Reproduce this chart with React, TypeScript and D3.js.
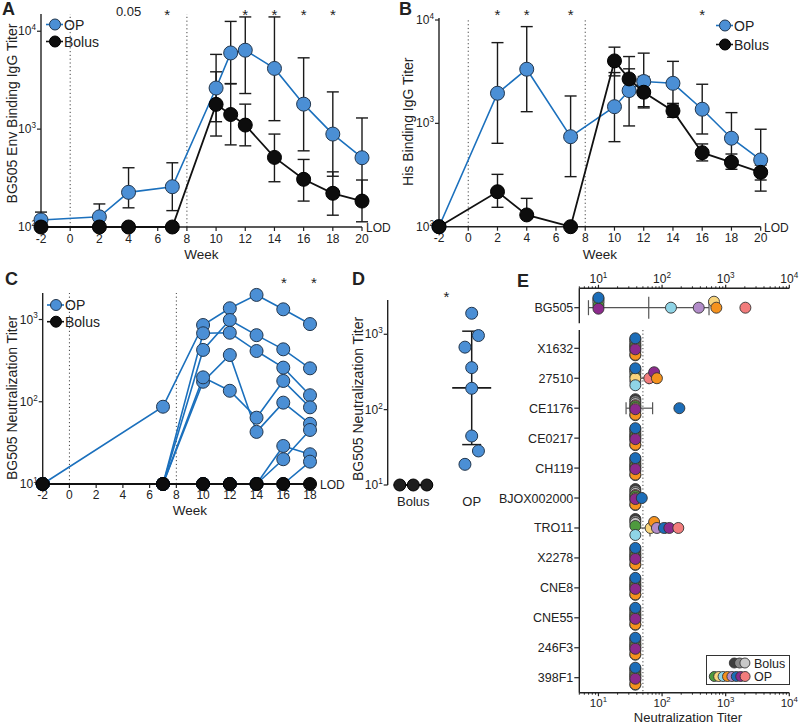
import React from "react";
import * as d3 from "d3";

const FONT = "'Liberation Sans', Arial, Helvetica, sans-serif";
const OP_FILL = "#4b8fd5";
const OP_LINE = "#1b70bd";
const OP_STROKE = "#22364d";
const BOL_FILL = "#0d0d0d";
const INK = "#222";

// ---------- Panel A: BG505 Env binding IgG titer ----------
const weeksAB = [-2, 2, 4, 7, 10, 11, 12, 14, 16, 18, 20];
const weekTicksAB = [-2, 0, 2, 4, 6, 8, 10, 12, 14, 16, 18, 20];
const envOP = [118, 127, 226, 258, 2630, 6000, 6400, 4170, 1800, 890, 510];
const envOPHi = [142, 172, 403, 453, 5800, 12600, 14000, 14000, 5350, 2400, 1300];
const envOPLo = [null, null, 157, 147, 1190, 2920, 2310, 1220, 600, 330, 200];
const envBol = [100, 100, 100, 100, 1790, 1410, 1100, 514, 307, 221, 184];
const envBolHi = [null, null, null, null, 3850, 2900, 1800, 890, 490, 366, 302];
const envBolLo = [null, null, null, null, 850, 690, 675, 290, 184, 132, 113];
const sigAWeeks = [4, 6.65, 12, 14, 16, 18];
const sigAText = ["0.05", "*", "*", "*", "*", "*"];

// ---------- Panel B: His binding IgG titer ----------
const hisOP = [100, 1955, 3340, 743, 1450, 2075, 2540, 2440, 1370, 718, 443];
const hisOPHi = [null, 6040, 8630, 1840, 3100, 4430, 4780, 3980, 2390, 1270, 877];
const hisOPLo = [null, 641, 1297, 305, 665, 944, 1450, 1560, 789, 411, 283];
const hisBol = [100, 218, 130, 100, 4020, 2690, 2000, 1320, 520, 420, 336];
const hisBolHi = [null, 321, 188, null, 5460, 3370, 2840, 1500, 632, 505, 395];
const hisBolLo = [null, 154, null, null, 2880, 2100, 1410, 1145, 433, 359, 221];
const sigBWeeks = [2, 4, 7, 16];
const sigBText = ["*", "*", "*", "*"];

// ---------- Panel C: BG505 neutralization per animal ----------
const weeksC = [-2, 7, 10, 12, 14, 16, 18];
const weekTicksC = [-2, 0, 2, 4, 6, 8, 10, 12, 14, 16, 18];
const opAnimal1 = [10, 87, 857, 1370, 1990, 1330, 880];
const opAnimal2 = [10, 10, 427, 986, 645, 434, 255];
const opAnimal3 = [10, 10, 680, 690, 414, 260, 120];
const opAnimal4 = [10, 10, 175, 370, 43, 97.5, 54];
const opAnimal5 = [10, 10, 198, 136, 64, 179, 85.5];
const opAnimal6 = [10, 10, 10, 10, 10, 20, 45.4];
const opAnimal7 = [10, 10, 10, 10, 10, 29, 23];
const opAnimal8 = [10, 10, 10, 10, 10, 10, 18.7];
const opAnimalsC = [opAnimal1, opAnimal2, opAnimal3, opAnimal4, opAnimal5, opAnimal6, opAnimal7, opAnimal8];
const bolusC = [10, 10, 10, 10, 10, 10, 10];
const sigCWeeks = [16.05, 18.3];

// ---------- Panel D: peak BG505 neutralization ----------
const groupsD = ["Bolus", "OP"];
const dBolus = [10, 10, 10];
const dOP = [1900, 962, 675, 361, 192, 44.7, 28.3, 18.8];

// ---------- Panel E: neutralization panel ----------
const strainNames = ["BG505", "X1632", "27510", "CE1176", "CE0217", "CH119", "BJOX002000", "TRO11", "X2278", "CNE8", "CNE55", "246F3", "398F1"];
// animal order: bolus dark, bolus gray, bolus light, OP green, yellow, light blue, orange, light purple, blue, purple, red
const animalNames = ["Bolus 1", "Bolus 2", "Bolus 3", "OP 1", "OP 2", "OP 3", "OP 4", "OP 5", "OP 6", "OP 7", "OP 8"];
const animalColors = ["#3f3f3f", "#8a8a8a", "#c8c8c8", "#4e9a3e", "#f8d47c", "#8fd4e6", "#f5921e", "#b28cc9", "#1c6db8", "#8c2a8c", "#f27c7c"];
const lodBG505 = 10;
const lodPanel = 38;
const tBG505 = [10, 10, 10, 10, 655, 138, 713, 377, 10, 10, 2040];
const tX1632 = [38, 38, 38, 38, 38, 38, 38, 38, 38, 38, 38];
const t27510 = [38, 38, 38, 38, 38, 38, 83, 38, 38, 75, 63];
const tCE1176 = [38, 38, 38, 38, 38, 38, 38, 38, 187, 38, 38];
const tCE0217 = [38, 38, 38, 38, 38, 38, 38, 38, 38, 38, 38];
const tCH119 = [38, 38, 38, 38, 38, 38, 38, 38, 38, 38, 38];
const tBJOX = [38, 38, 38, 38, 38, 38, 38, 38, 48, 38, 38];
const tTRO11 = [38, 38, 38, 38, 66, 38, 75, 83, 107, 130, 180];
const tX2278 = [38, 38, 38, 38, 38, 38, 38, 38, 38, 38, 38];
const tCNE8 = [38, 38, 38, 38, 38, 38, 38, 38, 38, 38, 38];
const tCNE55 = [38, 38, 38, 38, 38, 38, 38, 38, 38, 38, 38];
const t246F3 = [38, 38, 38, 38, 38, 38, 38, 38, 38, 38, 38];
const t398F1 = [38, 38, 38, 38, 38, 38, 38, 38, 38, 38, 38];
const neutTiters = [tBG505, tX1632, t27510, tCE1176, tCE0217, tCH119, tBJOX, tTRO11, tX2278, tCNE8, tCNE55, t246F3, t398F1];

// style: vertical slot of each animal in the stacked LOD column, and drawing order
const stackOffset = [-9, -7, -5, -2, 0, 7, 6.5, 3, -10, 1, -3];
const stackOrder = [0, 1, 2, 10, 7, 3, 4, 5, 6, 9, 8];

function Pow10({ x, y, exp, anchor = "end", size = 12 }: any) {
  return (
    <text x={x} y={y} textAnchor={anchor} fontSize={size} fill={INK}>
      10<tspan dy={-size * 0.42} fontSize={size * 0.68}>{exp}</tspan>
    </text>
  );
}

function LineLegend({ cx, y1, y2, textX, size = 14 }: any) {
  const items = [
    { label: "OP", fill: OP_FILL, line: OP_LINE, stroke: OP_STROKE, y: y1 },
    { label: "Bolus", fill: BOL_FILL, line: "#111", stroke: "#000", y: y2 },
  ];
  return (
    <g>
      {items.map((it) => (
        <g key={it.label}>
          <line x1={cx - 9} x2={cx + 8} y1={it.y} y2={it.y} stroke={it.line} strokeWidth={1.6} />
          <circle cx={cx} cy={it.y} r={5.5} fill={it.fill} stroke={it.stroke} strokeWidth={1} />
          <text x={textX} y={it.y + 5} fontSize={size} fill={INK}>{it.label}</text>
        </g>
      ))}
    </g>
  );
}

function ErrorBars({ xs, mean, hi, lo, xS, yS, cap = 6 }: any) {
  return (
    <g stroke="#1a1a1a" strokeWidth={1.4}>
      {xs.map((w: number, i: number) => {
        const h = hi[i] ?? mean[i];
        const l = lo[i] ?? mean[i];
        if (h === l) return null;
        const x = xS(w);
        return (
          <g key={i}>
            <line x1={x} x2={x} y1={yS(h)} y2={yS(l)} />
            {hi[i] != null && <line x1={x - cap} x2={x + cap} y1={yS(h)} y2={yS(h)} />}
            {lo[i] != null && <line x1={x - cap} x2={x + cap} y1={yS(l)} y2={yS(l)} />}
          </g>
        );
      })}
    </g>
  );
}

function TimeCourse(p: any) {
  const { xS, yS, weeks, op, opHi, opLo, bol, bolHi, bolLo, xTicks, yTicks, axisTop, lodX, lodY, weekY } = p;
  const [x0, x1] = xS.range();
  const yB = yS.range()[0];
  const line = d3.line<number>().x((_, i) => xS(weeks[i])).y((v) => yS(v));
  return (
    <g>
      {[0, 8].map((w) => (
        <line key={w} x1={xS(w)} x2={xS(w)} y1={yB} y2={axisTop} stroke="#444" strokeWidth={1} strokeDasharray="1.2,2.6" />
      ))}
      <line x1={x0} x2={x0} y1={yB} y2={axisTop} stroke={INK} strokeWidth={1.4} />
      <line x1={x0} x2={x1} y1={yB} y2={yB} stroke={INK} strokeWidth={1.4} />
      {xTicks.map((t: number) => (
        <g key={t}>
          <line x1={xS(t)} x2={xS(t)} y1={yB} y2={yB + 4} stroke={INK} strokeWidth={1.2} />
          <text x={xS(t)} y={yB + 15.5} textAnchor="middle" fontSize={12} fill={INK}>{t}</text>
        </g>
      ))}
      {yTicks.map((t: number) => (
        <g key={t}>
          <line x1={x0 - 4} x2={x0} y1={yS(t)} y2={yS(t)} stroke={INK} strokeWidth={1.2} />
          <Pow10 x={x0 - 5} y={yS(t) + 4} exp={Math.round(Math.log10(t))} size={12} />
        </g>
      ))}
      <text x={(x0 + x1) / 2} y={weekY} textAnchor="middle" fontSize={13.5} fill={INK}>Week</text>
      <text x={lodX} y={lodY} fontSize={12} fill={INK}>LOD</text>
      <ErrorBars xs={weeks} mean={op} hi={opHi} lo={opLo} xS={xS} yS={yS} />
      <ErrorBars xs={weeks} mean={bol} hi={bolHi} lo={bolLo} xS={xS} yS={yS} />
      <path d={line(op) || ""} fill="none" stroke={OP_LINE} strokeWidth={1.6} />
      {op.map((v: number, i: number) => (
        <circle key={i} cx={xS(weeks[i])} cy={yS(v)} r={7} fill={OP_FILL} stroke={OP_STROKE} strokeWidth={1} />
      ))}
      <path d={line(bol) || ""} fill="none" stroke="#111" strokeWidth={1.8} />
      {bol.map((v: number, i: number) => (
        <circle key={i} cx={xS(weeks[i])} cy={yS(v)} r={7} fill={BOL_FILL} stroke="#000" strokeWidth={1} />
      ))}
    </g>
  );
}

function PanelA() {
  const xS = d3.scaleLinear().domain([-2, 20]).range([41, 362]);
  const yS = d3.scaleLog().domain([100, 15000]).range([227, 14]);
  return (
    <g>
      <text x={2} y={15} fontSize={18} fontWeight="bold" fill={INK}>A</text>
      <TimeCourse xS={xS} yS={yS} weeks={weeksAB} op={envOP} opHi={envOPHi} opLo={envOPLo}
        bol={envBol} bolHi={envBolHi} bolLo={envBolLo} xTicks={weekTicksAB} yTicks={[100, 1000, 10000]}
        axisTop={14} lodX={366} lodY={232} weekY={259} />
      <text transform="translate(17,113.5) rotate(-90)" textAnchor="middle" fontSize={14} fill={INK}>BG505 Env Binding IgG Titer</text>
      <LineLegend cx={55} y1={24.5} y2={41.5} textX={64} size={14} />
      {sigAWeeks.map((w, i) => (
        <text key={i} x={xS(w)} y={sigAText[i] === "*" ? 20 : 16} textAnchor="middle" fontSize={sigAText[i] === "*" ? 15 : 13} fill={INK}>{sigAText[i]}</text>
      ))}
    </g>
  );
}

function PanelB() {
  const xS = d3.scaleLinear().domain([-2, 20]).range([439, 760.7]);
  const yS = d3.scaleLog().domain([100, 10000]).range([226.7, 20]);
  return (
    <g>
      <text x={399} y={15} fontSize={18} fontWeight="bold" fill={INK}>B</text>
      <TimeCourse xS={xS} yS={yS} weeks={weeksAB} op={hisOP} opHi={hisOPHi} opLo={hisOPLo}
        bol={hisBol} bolHi={hisBolHi} bolLo={hisBolLo} xTicks={weekTicksAB} yTicks={[100, 1000, 10000]}
        axisTop={18} lodX={764} lodY={232} weekY={258.5} />
      <text transform="translate(413,121.7) rotate(-90)" textAnchor="middle" fontSize={14} fill={INK}>His Binding IgG Titer</text>
      <LineLegend cx={725} y1={25.5} y2={44.5} textX={734} size={14} />
      {sigBWeeks.map((w, i) => (
        <text key={i} x={xS(w)} y={20} textAnchor="middle" fontSize={15} fill={INK}>{sigBText[i]}</text>
      ))}
    </g>
  );
}

function PanelC() {
  const xS = d3.scaleLinear().domain([-2, 18]).range([42.7, 310]);
  const yS = d3.scaleLog().domain([10, 2100]).range([484, 293]);
  const [x0, x1] = xS.range();
  const yB = 484;
  const line = d3.line<number>().x((_, i) => xS(weeksC[i])).y((v) => yS(v));
  return (
    <g>
      <text x={5} y={285} fontSize={18} fontWeight="bold" fill={INK}>C</text>
      {[0, 8].map((w) => (
        <line key={w} x1={xS(w)} x2={xS(w)} y1={yB} y2={293} stroke="#444" strokeWidth={1} strokeDasharray="1.2,2.6" />
      ))}
      <line x1={x0} x2={x0} y1={yB} y2={293} stroke={INK} strokeWidth={1.4} />
      <line x1={x0} x2={x1} y1={yB} y2={yB} stroke={INK} strokeWidth={1.4} />
      {weekTicksC.map((t) => (
        <g key={t}>
          <line x1={xS(t)} x2={xS(t)} y1={yB} y2={yB + 4} stroke={INK} strokeWidth={1.2} />
          <text x={xS(t)} y={yB + 14.5} textAnchor="middle" fontSize={12} fill={INK}>{t}</text>
        </g>
      ))}
      {[10, 100, 1000].map((t) => (
        <g key={t}>
          <line x1={x0 - 4} x2={x0} y1={yS(t)} y2={yS(t)} stroke={INK} strokeWidth={1.2} />
          <Pow10 x={x0 - 5} y={yS(t) + 4} exp={Math.round(Math.log10(t))} size={12} />
        </g>
      ))}
      <text x={190} y={514.5} textAnchor="middle" fontSize={13.5} fill={INK}>Week</text>
      <text x={320} y={489} fontSize={12} fill={INK}>LOD</text>
      <text transform="translate(17,398) rotate(-90)" textAnchor="middle" fontSize={14} fill={INK}>BG505 Neutralization Titer</text>
      {opAnimalsC.map((a, k) => (
        <path key={k} d={line(a) || ""} fill="none" stroke={OP_LINE} strokeWidth={1.6} />
      ))}
      {opAnimalsC.map((a, k) =>
        a.map((v, i) => (
          <circle key={k + "-" + i} cx={xS(weeksC[i])} cy={yS(v)} r={6.5} fill={OP_FILL} stroke={OP_STROKE} strokeWidth={1} />
        ))
      )}
      <path d={line(bolusC) || ""} fill="none" stroke="#111" strokeWidth={1.8} />
      {bolusC.map((v, i) => (
        <circle key={i} cx={xS(weeksC[i])} cy={yS(v)} r={6.5} fill={BOL_FILL} stroke="#000" strokeWidth={1} />
      ))}
      <LineLegend cx={56} y1={305} y2={321.7} textX={65} size={14} />
      {sigCWeeks.map((w, i) => (
        <text key={i} x={xS(w)} y={288} textAnchor="middle" fontSize={15} fill={INK}>*</text>
      ))}
    </g>
  );
}

function swarmOffsets(ys: number[], minGap: number, step: number) {
  const idx = ys.map((_, i) => i).sort((a, b) => ys[b] - ys[a]);
  const off = new Array(ys.length).fill(0);
  let cluster: number[] = [];
  const flush = () => {
    cluster.forEach((id, k) => (off[id] = (k - (cluster.length - 1) / 2) * step));
    cluster = [];
  };
  idx.forEach((id) => {
    if (cluster.length && Math.abs(ys[id] - ys[cluster[cluster.length - 1]]) >= minGap) flush();
    cluster.push(id);
  });
  flush();
  return off;
}

function PanelD() {
  const yS = d3.scaleLog().domain([10, 2850]).range([485, 300]);
  const xS = d3.scalePoint<string>().domain(groupsD).range([413.3, 471.7]);
  const axisX = 387.7;
  const groups = [
    { name: groupsD[0], vals: dBolus, fill: "#1e1e1e", stroke: "#000" },
    { name: groupsD[1], vals: dOP, fill: OP_FILL, stroke: OP_STROKE },
  ];
  return (
    <g>
      <text x={352} y={285} fontSize={18} fontWeight="bold" fill={INK}>D</text>
      <line x1={axisX} x2={axisX} y1={485} y2={300} stroke={INK} strokeWidth={1.4} />
      {[10, 100, 1000].map((t) => (
        <g key={t}>
          <line x1={axisX - 4} x2={axisX} y1={yS(t)} y2={yS(t)} stroke={INK} strokeWidth={1.2} />
          <Pow10 x={axisX - 5} y={yS(t) + 4} exp={Math.round(Math.log10(t))} size={12} />
        </g>
      ))}
      <text transform="translate(363,399) rotate(-90)" textAnchor="middle" fontSize={14} fill={INK}>BG505 Neutralization Titer</text>
      {groups.map((g) => {
        const cx = xS(g.name) as number;
        const logs = g.vals.map(Math.log10);
        const m = d3.mean(logs) as number;
        const sd = d3.deviation(logs) || 0;
        const ys = g.vals.map((v) => yS(v));
        const offs = swarmOffsets(ys, 14, 13.5);
        return (
          <g key={g.name}>
            <text x={cx} y={506} textAnchor="middle" fontSize={13} fill={INK}>{g.name}</text>
            <g stroke="#1a1a1a" strokeWidth={1.5}>
              {sd > 0 && <line x1={cx} x2={cx} y1={yS(Math.pow(10, m + sd))} y2={yS(Math.pow(10, m - sd))} />}
              {sd > 0 && <line x1={cx - 9.5} x2={cx + 9.5} y1={yS(Math.pow(10, m + sd))} y2={yS(Math.pow(10, m + sd))} />}
              {sd > 0 && <line x1={cx - 9.5} x2={cx + 9.5} y1={yS(Math.pow(10, m - sd))} y2={yS(Math.pow(10, m - sd))} />}
              <line x1={cx - 19.5} x2={cx + 19.5} y1={yS(Math.pow(10, m))} y2={yS(Math.pow(10, m))} strokeWidth={1.8} />
            </g>
            {g.vals.map((v, i) => (
              <circle key={i} cx={cx + offs[i]} cy={ys[i]} r={6} fill={g.fill} stroke={g.stroke} strokeWidth={1} />
            ))}
          </g>
        );
      })}
      <text x={446.5} y={302} textAnchor="middle" fontSize={15} fill={INK}>*</text>
    </g>
  );
}

function PanelE() {
  const xS = d3.scaleLog().domain([5, 10000]).range([579.3, 789.3]);
  const lowerNames = strainNames.slice(1);
  const yRow = d3.scalePoint<string>().domain(lowerNames).range([348.3, 677.7]);
  const rowY = (name: string) => (name === strainNames[0] ? 307.7 : (yRow(name) as number));
  const lodOf = (name: string) => (name === strainNames[0] ? lodBG505 : lodPanel);
  const axisL = 579.3;
  const topY = 288.3;
  const botY = 692.7;
  const majors = [10, 100, 1000, 10000];
  const minors: number[] = [];
  [1, 10, 100, 1000].forEach((d) => {
    for (let k = 2; k <= 9; k++) {
      const v = k * d;
      if (v >= 5 && v < 10000) minors.push(v);
    }
  });
  const cands = [0, -4, 4, -6, 6, -8, 8];
  const r = 5.5;
  return (
    <g>
      <text x={517} y={287} fontSize={18} fontWeight="bold" fill={INK}>E</text>
      {/* top axis */}
      <line x1={axisL} x2={xS(10000)} y1={topY} y2={topY} stroke={INK} strokeWidth={1.4} />
      {minors.map((v) => (
        <line key={"tm" + v} x1={xS(v)} x2={xS(v)} y1={topY} y2={topY - 2} stroke={INK} strokeWidth={1} />
      ))}
      {majors.map((v) => (
        <g key={"tM" + v}>
          <line x1={xS(v)} x2={xS(v)} y1={topY} y2={topY - 3.5} stroke={INK} strokeWidth={1.2} />
          <Pow10 x={xS(v)} y={topY - 5} exp={Math.round(Math.log10(v))} anchor="middle" size={12} />
        </g>
      ))}
      {/* bottom axis */}
      <line x1={axisL} x2={xS(10000)} y1={botY} y2={botY} stroke={INK} strokeWidth={1.4} />
      {minors.map((v) => (
        <line key={"bm" + v} x1={xS(v)} x2={xS(v)} y1={botY} y2={botY + 2} stroke={INK} strokeWidth={1} />
      ))}
      {majors.map((v) => (
        <g key={"bM" + v}>
          <line x1={xS(v)} x2={xS(v)} y1={botY} y2={botY + 3.5} stroke={INK} strokeWidth={1.2} />
          <Pow10 x={xS(v)} y={botY + 14} exp={Math.round(Math.log10(v))} anchor="middle" size={11.5} />
        </g>
      ))}
      <text x={688} y={721.5} textAnchor="middle" fontSize={13} fill={INK}>Neutralization Titer</text>
      {/* left axis segments */}
      <line x1={axisL} x2={axisL} y1={topY} y2={323.3} stroke={INK} strokeWidth={1.4} />
      <line x1={axisL} x2={axisL} y1={330} y2={botY} stroke={INK} strokeWidth={1.4} />
      <line x1={xS(50)} x2={xS(50)} y1={330} y2={botY} stroke="#444" strokeWidth={1} strokeDasharray="1.2,2.4" />
      {strainNames.map((name) => {
        const y = rowY(name);
        return (
          <g key={"lab" + name}>
            <line x1={axisL - 5} x2={axisL} y1={y} y2={y} stroke={INK} strokeWidth={1.2} />
            <text x={axisL - 6} y={y + 4.5} textAnchor="end" fontSize={12.5} fill={INK}>{name}</text>
          </g>
        );
      })}
      {strainNames.map((name, ri) => {
        const vals = neutTiters[ri];
        const y = rowY(name);
        const lod = lodOf(name);
        const logs = vals.map(Math.log10);
        const m = d3.mean(logs) as number;
        const sd = d3.deviation(logs) || 0;
        const big = ri === 0;
        const capH = big ? 7.5 : 6;
        const meanH = big ? 11 : 8.5;
        const pts = vals.map((v, i) => ({ i, v, x: xS(v), dy: 0, lod: v === lod }));
        pts.filter((d) => d.lod).forEach((d) => (d.dy = stackOffset[d.i]));
        const free = pts.filter((d) => !d.lod).sort((a, b) => b.v - a.v);
        const placed: any[] = [];
        free.forEach((d) => {
          const c = cands.find((c) => placed.every((p) => Math.hypot(p.x - d.x, p.dy - c) >= 5));
          d.dy = c ?? 0;
          placed.push(d);
        });
        const stack = stackOrder.map((i) => pts[i]).filter((d) => d.lod);
        const xLo = xS(Math.pow(10, m - sd));
        const xHi = xS(Math.pow(10, m + sd));
        const xM = xS(Math.pow(10, m));
        return (
          <g key={"row" + name}>
            {sd > 0 && (
              <g stroke="#555" strokeWidth={1.2}>
                <line x1={xLo} x2={xHi} y1={y} y2={y} />
                <line x1={xLo} x2={xLo} y1={y - capH} y2={y + capH} />
                <line x1={xHi} x2={xHi} y1={y - capH} y2={y + capH} />
                <line x1={xM} x2={xM} y1={y - meanH} y2={y + meanH} />
              </g>
            )}
            {stack.map((d) => (
              <circle key={"s" + d.i} cx={d.x} cy={y + d.dy} r={r} fill={animalColors[d.i]} stroke="#333" strokeWidth={0.9} />
            ))}
            {free
              .slice()
              .reverse()
              .map((d) => (
                <circle key={"f" + d.i} cx={d.x} cy={y + d.dy} r={r} fill={animalColors[d.i]} stroke="#333" strokeWidth={0.9}>
                  <title>{animalNames[d.i]}</title>
                </circle>
              ))}
          </g>
        );
      })}
      {/* legend */}
      <rect x={706.5} y={655.5} width={83} height={29} fill="#fff" stroke="#333" strokeWidth={1} />
      {[0, 1, 2].map((i, k) => (
        <circle key={"lb" + i} cx={734.3 + k * 5.3} cy={663} r={5} fill={animalColors[i]} stroke="#333" strokeWidth={0.9} />
      ))}
      {[3, 4, 5, 6, 7, 8, 9, 10].map((i, k) => (
        <circle key={"lo" + i} cx={714.3 + k * 4.4} cy={676.5} r={5} fill={animalColors[i]} stroke="#333" strokeWidth={0.9} />
      ))}
      <text x={754} y={667.5} fontSize={12.5} fill={INK}>Bolus</text>
      <text x={754} y={681} fontSize={12.5} fill={INK}>OP</text>
    </g>
  );
}

export default function App() {
  return (
    <svg width={800} height={723} viewBox="0 0 800 723" fontFamily={FONT}
      style={{ position: "absolute", left: 0, top: 0, background: "#fff" }}>
      <rect width={800} height={723} fill="#fff" />
      <PanelA />
      <PanelB />
      <PanelC />
      <PanelD />
      <PanelE />
    </svg>
  );
}
